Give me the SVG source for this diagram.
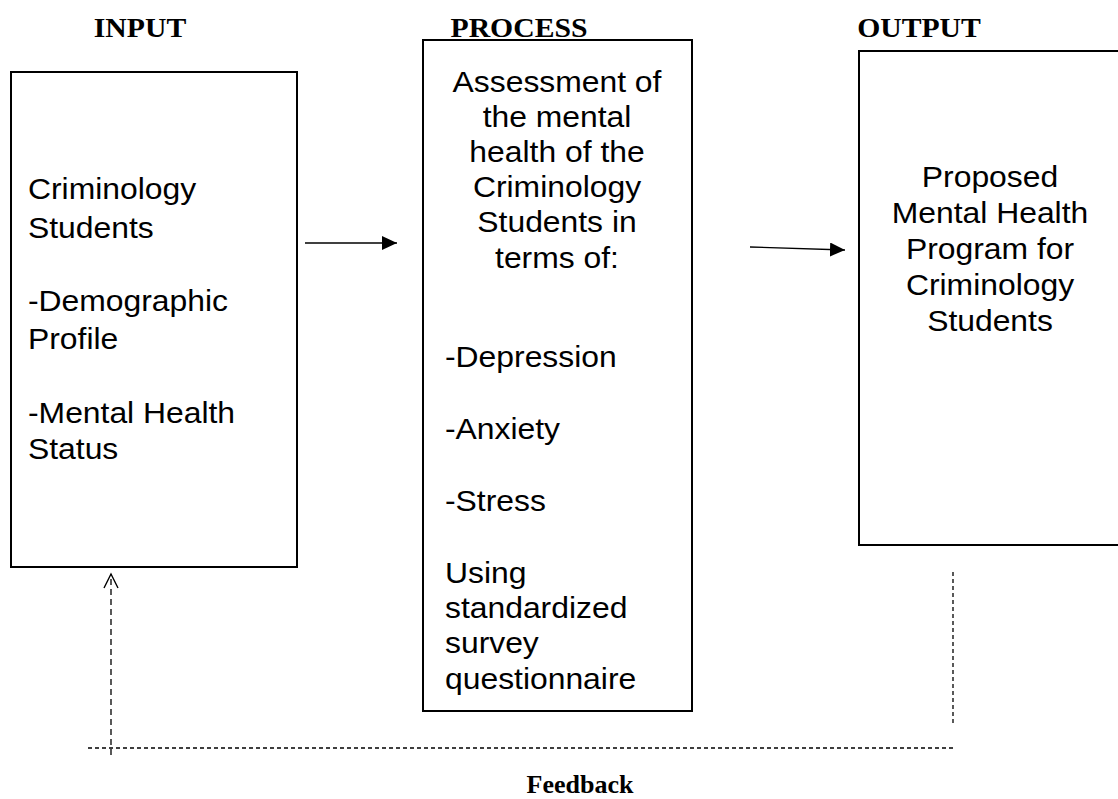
<svg xmlns="http://www.w3.org/2000/svg" width="1118" height="799" viewBox="0 0 1118 799">
<style>
.box{fill:#fff;stroke:#000;stroke-width:2}
.t{font-family:"Liberation Sans",Arial,sans-serif;font-size:29.5px;fill:#000}
.c{text-anchor:middle}
.h{font-family:"Liberation Serif","Times New Roman",serif;font-size:27px;font-weight:bold;fill:#000;text-anchor:middle}
.arr{stroke:#000;stroke-width:1.3;fill:none}
.dash{stroke:#000;stroke-width:1.3;fill:none}
</style>
<defs>
<marker id="ah" markerUnits="userSpaceOnUse" markerWidth="16" markerHeight="14" refX="15" refY="7" orient="auto">
<path d="M0,0 L15,7 L0,14 Z" fill="#000"/>
</marker>
<marker id="oh" markerUnits="userSpaceOnUse" markerWidth="18" markerHeight="18" refX="15" refY="8" orient="auto">
<path d="M1,1 L15,8 L1,15" fill="none" stroke="#000" stroke-width="1.4"/>
</marker>
</defs>
<g id="headings">
<text class="h" transform="translate(140,37) scale(1.1,1)">INPUT</text>
<text class="h" transform="translate(519,37) scale(1.1,1)">PROCESS</text>
<text class="h" transform="translate(919,37) scale(1.1,1)">OUTPUT</text>
</g>
<g id="input">
<rect class="box" x="11" y="72" width="286" height="495"/>
<text class="t" transform="translate(28,199) scale(1.08,1)">Criminology</text>
<text class="t" transform="translate(28,238) scale(1.08,1)">Students</text>
<text class="t" transform="translate(28,311) scale(1.08,1)">-Demographic</text>
<text class="t" transform="translate(28,349) scale(1.08,1)">Profile</text>
<text class="t" transform="translate(28,423) scale(1.08,1)">-Mental Health</text>
<text class="t" transform="translate(28,459) scale(1.08,1)">Status</text>
</g>
<g id="process">
<rect class="box" x="423" y="40" width="269" height="671"/>
<text class="t c" transform="translate(557,92) scale(1.08,1)">Assessment of</text>
<text class="t c" transform="translate(557,127) scale(1.08,1)">the mental</text>
<text class="t c" transform="translate(557,162) scale(1.08,1)">health of the</text>
<text class="t c" transform="translate(557,197) scale(1.08,1)">Criminology</text>
<text class="t c" transform="translate(557,232) scale(1.08,1)">Students in</text>
<text class="t c" transform="translate(557,268) scale(1.08,1)">terms of:</text>
<text class="t" transform="translate(445,367) scale(1.08,1)">-Depression</text>
<text class="t" transform="translate(445,439) scale(1.08,1)">-Anxiety</text>
<text class="t" transform="translate(445,511) scale(1.08,1)">-Stress</text>
<text class="t" transform="translate(445,583) scale(1.08,1)">Using</text>
<text class="t" transform="translate(445,618) scale(1.08,1)">standardized</text>
<text class="t" transform="translate(445,653) scale(1.08,1)">survey</text>
<text class="t" transform="translate(445,689) scale(1.08,1)">questionnaire</text>
</g>
<g id="output">
<rect class="box" x="859" y="51" width="270" height="494"/>
<text class="t c" transform="translate(990,187) scale(1.08,1)">Proposed</text>
<text class="t c" transform="translate(990,223) scale(1.08,1)">Mental Health</text>
<text class="t c" transform="translate(990,259) scale(1.08,1)">Program for</text>
<text class="t c" transform="translate(990,295) scale(1.08,1)">Criminology</text>
<text class="t c" transform="translate(990,331) scale(1.08,1)">Students</text>
</g>
<g id="feedback-label">
<text class="h" x="580" y="793" style="font-size:26px">Feedback</text>
</g>
<g id="connectors">
<line class="arr" x1="305" y1="243" x2="397" y2="243" marker-end="url(#ah)"/>
<line class="arr" x1="750" y1="247" x2="845" y2="250" marker-end="url(#ah)"/>
<line class="dash" x1="111" y1="755" x2="111" y2="574" stroke-dasharray="6 4" stroke-width="1.5" marker-end="url(#oh)"/>
<line class="dash" x1="88" y1="748" x2="953" y2="748" stroke-dasharray="4 3"/>
<line class="dash" x1="953" y1="572" x2="953" y2="725" stroke-dasharray="4 3"/>
</g>
</svg>
